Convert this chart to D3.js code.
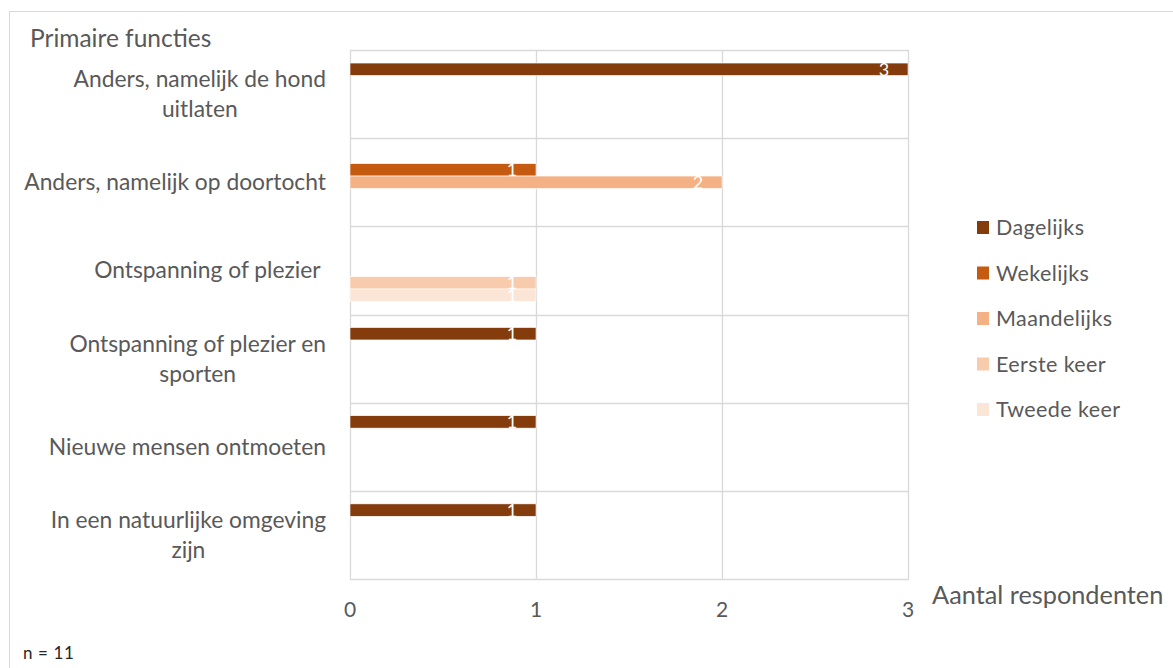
<!DOCTYPE html>
<html>
<head>
<meta charset="utf-8">
<script src="https://cdn.jsdelivr.net/npm/d3@7"></script>
<style>
  html, body { margin: 0; padding: 0; background: #fff; }
  svg { display: block; font-family: Lato, "Open Sans", sans-serif; }
</style>
</head>
<body>
<svg id="chart" width="1173" height="668"></svg>
<script>
// ---- data ----
const categories = [
  "Anders, namelijk de hond uitlaten",
  "Anders, namelijk op doortocht",
  "Ontspanning of plezier",
  "Ontspanning of plezier en sporten",
  "Nieuwe mensen ontmoeten",
  "In een natuurlijke omgeving zijn"
];
const categoryLines = [
  ["Anders, namelijk de hond", "uitlaten"],
  ["Anders, namelijk op doortocht"],
  ["Ontspanning of plezier\u00a0"],
  ["Ontspanning of plezier en", "sporten"],
  ["Nieuwe mensen ontmoeten"],
  ["In een natuurlijke omgeving", "zijn"]
];
const seriesNames = ["Dagelijks", "Wekelijks", "Maandelijks", "Eerste keer", "Tweede keer"];
const dagelijks   = [3, null, null, 1, 1, 1];
const wekelijks   = [null, 1, null, null, null, null];
const maandelijks = [null, 2, null, null, null, null];
const eersteKeer  = [null, null, 1, null, null, null];
const tweedeKeer  = [null, null, 1, null, null, null];
const seriesColors = ["#843C0C", "#C55A11", "#F4B183", "#F8CBAD", "#FBE5D6"];
const xTicks = [0, 1, 2, 3];
const yAxisTitle = "Primaire functies";
const xAxisTitle = "Aantal respondenten";
const note = "n = 11";

const seriesValues = [dagelijks, wekelijks, maandelijks, eersteKeer, tweedeKeer];

// ---- layout ----
const svg = d3.select("#chart");
const plot = { left: 350, right: 908, top: 50, bottom: 579 };
const textColor = "#595959";
const gridColor = "#D9D9D9";

// chart frame
svg.append("rect")
  .attr("x", 9.5).attr("y", 11.5)
  .attr("width", 1300).attr("height", 800)
  .attr("fill", "#fff").attr("stroke", gridColor).attr("stroke-width", 1);

const x = d3.scaleLinear().domain([0, 3]).range([plot.left, plot.right]);
const y = d3.scaleBand().domain(categories).range([plot.top, plot.bottom]).padding(0);
const ySub = d3.scaleBand().domain(seriesNames).range([0, y.bandwidth()])
  .paddingInner(0).paddingOuter(1.05);

// gridlines
const grid = svg.append("g");
grid.selectAll("line.v").data(xTicks).join("line")
  .attr("x1", d => Math.round(x(d)) + 0.5).attr("x2", d => Math.round(x(d)) + 0.5)
  .attr("y1", plot.top).attr("y2", plot.bottom)
  .attr("stroke", gridColor).attr("stroke-width", 1.3);
const hBounds = categories.map(c => y(c)).concat([plot.bottom]);
grid.selectAll("line.h").data(hBounds).join("line")
  .attr("x1", plot.left).attr("x2", plot.right + 1)
  .attr("y1", d => Math.round(d) + 0.5).attr("y2", d => Math.round(d) + 0.5)
  .attr("stroke", gridColor).attr("stroke-width", 1.3);

// bars
const barData = [];
seriesValues.forEach((vals, si) => {
  vals.forEach((v, ci) => {
    if (v != null) barData.push({ s: seriesNames[si], si, c: categories[ci], v });
  });
});
const bars = svg.append("g");
bars.selectAll("rect").data(barData).join("rect")
  .attr("x", x(0))
  .attr("y", d => y(d.c) + ySub(d.s))
  .attr("width", d => x(d.v) - x(0))
  .attr("height", ySub.bandwidth())
  .attr("fill", d => seriesColors[d.si])
  .attr("stroke", "#fff").attr("stroke-width", 0.6);

// data labels
bars.selectAll("text").data(barData).join("text")
  .attr("x", d => x(d.v) - 24)
  .attr("y", d => y(d.c) + ySub(d.s) + ySub.bandwidth() / 2)
  .attr("dy", "0.36em")
  .attr("text-anchor", "middle")
  .attr("fill", "#fff")
  .attr("font-size", 18)
  .text(d => d.v);

// x tick labels
svg.append("g").selectAll("text").data(xTicks).join("text")
  .attr("x", d => x(d))
  .attr("y", 617)
  .attr("text-anchor", "middle")
  .attr("fill", textColor)
  .attr("font-size", 21)
  .text(d => d3.format("d")(d));

// category labels
const catG = svg.append("g");
const labelRight = 326;
const lineH = 30;
categories.forEach((c, i) => {
  const lines = categoryLines[i];
  const cy = y(c) + y.bandwidth() / 2;
  const g = catG.append("g");
  const texts = g.selectAll("text").data(lines).join("text")
    .attr("fill", textColor)
    .attr("font-size", 22.8)
    .style("white-space", "pre")
    .attr("y", (d, k) => cy + (k - (lines.length - 1) / 2) * lineH)
    .attr("dy", "0.35em")
    .attr("text-anchor", "middle")
    .text(d => d);
  let maxW = 0;
  texts.each(function () { maxW = Math.max(maxW, this.getComputedTextLength()); });
  texts.attr("x", labelRight - maxW / 2);
});

// titles
svg.append("text")
  .attr("x", 30).attr("y", 47)
  .attr("fill", textColor).attr("font-size", 24.5)
  .text(yAxisTitle);
svg.append("text")
  .attr("x", 932).attr("y", 604)
  .attr("fill", textColor).attr("font-size", 25.3)
  .text(xAxisTitle);
svg.append("text")
  .attr("x", 23).attr("y", 659)
  .attr("fill", "#262626").attr("font-size", 17).attr("letter-spacing", 0.6)
  .text(note);

// legend
const legend = svg.append("g");
const legY = d3.scalePoint().domain(seriesNames).range([227.5, 409.5]);
const li = legend.selectAll("g").data(seriesNames).join("g")
  .attr("transform", d => `translate(977,${legY(d)})`);
li.append("rect")
  .attr("x", 0).attr("y", -6.5).attr("width", 12).attr("height", 13)
  .attr("fill", (d, i) => seriesColors[i]);
li.append("text")
  .attr("x", 19).attr("y", 0).attr("dy", "0.35em")
  .attr("fill", textColor).attr("font-size", 21.5).attr("letter-spacing", 0.4)
  .text(d => d);
</script>
</body>
</html>
